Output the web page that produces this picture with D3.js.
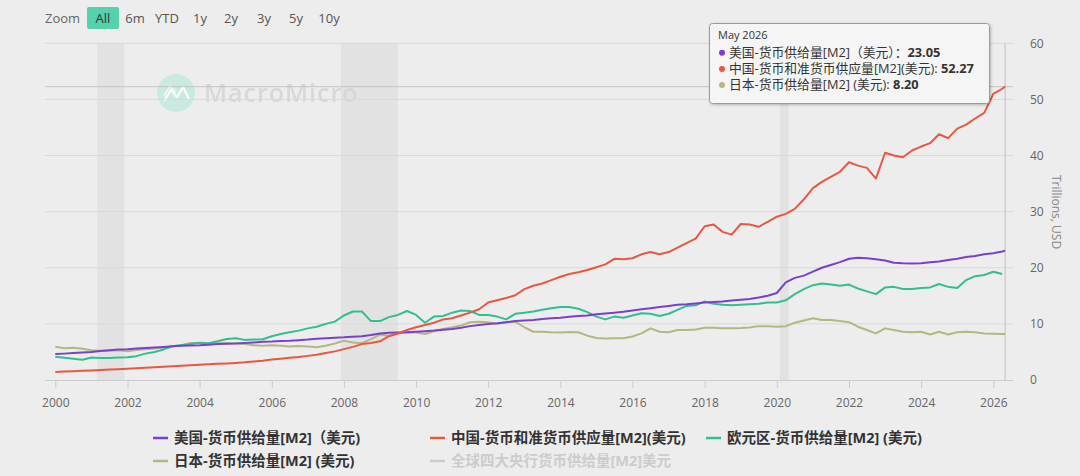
<!DOCTYPE html>
<html><head><meta charset="utf-8">
<script src="https://cdn.jsdelivr.net/npm/d3@7"></script>
<style>
html,body{margin:0;padding:0;background:#ededed;}
svg{display:block;}
text{font-family:"Open Sans","Noto Sans CJK SC","Noto Sans",sans-serif;}
</style></head>
<body>
<svg id="chart" width="1080" height="476"></svg>
<script>
// ---------- DATA ----------
const dates = [
"2000-01","2000-04","2000-07","2000-10",
"2001-01","2001-04","2001-07","2001-10",
"2002-01","2002-04","2002-07","2002-10",
"2003-01","2003-04","2003-07","2003-10",
"2004-01","2004-04","2004-07","2004-10",
"2005-01","2005-04","2005-07","2005-10",
"2006-01","2006-04","2006-07","2006-10",
"2007-01","2007-04","2007-07","2007-10",
"2008-01","2008-04","2008-07","2008-10",
"2009-01","2009-04","2009-07","2009-10",
"2010-01","2010-04","2010-07","2010-10",
"2011-01","2011-04","2011-07","2011-10",
"2012-01","2012-04","2012-07","2012-10",
"2013-01","2013-04","2013-07","2013-10",
"2014-01","2014-04","2014-07","2014-10",
"2015-01","2015-04","2015-07","2015-10",
"2016-01","2016-04","2016-07","2016-10",
"2017-01","2017-04","2017-07","2017-10",
"2018-01","2018-04","2018-07","2018-10",
"2019-01","2019-04","2019-07","2019-10",
"2020-01","2020-04","2020-07","2020-10",
"2021-01","2021-04","2021-07","2021-10",
"2022-01","2022-04","2022-07","2022-10",
"2023-01","2023-04","2023-07","2023-10",
"2024-01","2024-04","2024-07","2024-10",
"2025-01","2025-04","2025-07","2025-10",
"2026-01","2026-04","2026-05"
];
const usM2 = [
4.63,4.7,4.8,4.9, 5.0,5.15,5.3,5.45, 5.5,5.6,5.7,5.8, 5.9,6.0,6.1,6.15,
6.2,6.3,6.4,6.45, 6.5,6.6,6.7,6.8, 6.85,6.95,7.0,7.1, 7.2,7.35,7.45,7.55,
7.6,7.7,7.8,8.0, 8.3,8.4,8.45,8.5, 8.6,8.7,8.8,8.95, 9.1,9.3,9.6,9.8,
10.0,10.1,10.3,10.5, 10.6,10.7,10.85,11.0, 11.1,11.25,11.4,11.5, 11.7,11.85,12.0,12.15,
12.4,12.6,12.8,13.0, 13.2,13.4,13.5,13.65, 13.8,13.9,14.0,14.15, 14.3,14.45,14.7,15.0,
15.5,17.4,18.2,18.6, 19.3,20.0,20.5,21.0, 21.6,21.8,21.7,21.5, 21.3,20.9,20.8,20.75,
20.8,21.0,21.1,21.4, 21.6,21.9,22.1,22.4, 22.6,22.9,23.05
];
const chinaM2 = [
1.43,1.5,1.57,1.63, 1.7,1.77,1.85,1.92, 2.0,2.1,2.2,2.28, 2.35,2.45,2.55,2.62,
2.7,2.8,2.88,2.95, 3.05,3.15,3.3,3.45, 3.65,3.8,3.95,4.1, 4.3,4.5,4.8,5.1,
5.5,5.9,6.4,6.6, 6.9,7.8,8.3,8.9, 9.4,9.8,10.2,10.8, 11.0,11.5,12.0,12.6,
13.8,14.2,14.6,15.1, 16.2,16.8,17.2,17.8, 18.4,18.9,19.2,19.6, 20.1,20.6,21.6,21.5,
21.7,22.4,22.8,22.4, 22.8,23.6,24.4,25.2, 27.4,27.7,26.4,25.9, 27.8,27.7,27.3,28.2,
29.1,29.6,30.5,32.2, 34.2,35.3,36.2,37.1, 38.8,38.2,37.8,35.9, 40.5,40.0,39.7,40.9,
41.6,42.2,43.8,43.1, 44.8,45.5,46.6,47.6, 51.0,51.9,52.27
];
const euroM2 = [
4.16,3.98,3.8,3.6, 4.0,3.9,3.9,4.0, 4.04,4.25,4.7,5.0, 5.45,6.0,6.2,6.4,
6.65,6.55,6.9,7.3, 7.45,7.15,7.2,7.25, 7.8,8.2,8.5,8.8, 9.2,9.5,10.0,10.4,
11.5,12.2,12.2,10.5, 10.5,11.2,11.6,12.3, 11.6,10.2,11.3,11.4, 12.0,12.4,12.3,11.6,
11.6,11.3,10.8,11.8, 12.0,12.2,12.5,12.8, 13.0,13.0,12.7,12.1, 11.3,10.8,11.3,11.1,
11.5,11.9,11.8,11.4, 11.8,12.5,13.2,13.3, 14.0,13.6,13.4,13.3, 13.4,13.5,13.6,13.8,
13.8,14.2,15.3,16.2, 16.9,17.2,17.0,16.8, 17.0,16.3,15.8,15.3, 16.5,16.6,16.2,16.2,
16.4,16.5,17.1,16.6, 16.4,17.8,18.5,18.7, 19.3,18.9,null
];
const japanM2 = [
5.94,5.64,5.76,5.55, 5.3,5.2,5.2,5.3, 5.1,5.35,5.5,5.6, 5.8,6.0,6.2,6.6,
6.6,6.45,6.55,6.6, 6.55,6.4,6.2,6.1, 6.2,6.1,5.95,6.05, 5.95,5.85,6.1,6.5,
7.0,6.7,6.55,7.3, 8.1,7.9,8.3,8.5, 8.45,8.2,8.7,9.1, 9.4,9.7,10.3,10.4,
10.3,10.0,10.3,10.4, 9.4,8.6,8.6,8.5, 8.45,8.55,8.5,7.9, 7.5,7.4,7.45,7.45,
7.75,8.3,9.2,8.6, 8.5,8.9,8.9,9.0, 9.3,9.3,9.2,9.2, 9.25,9.35,9.6,9.6,
9.5,9.6,10.2,10.6, 11.0,10.7,10.7,10.5, 10.3,9.5,8.9,8.3, 9.2,8.9,8.6,8.5,
8.6,8.1,8.6,8.1, 8.5,8.6,8.5,8.3, 8.25,8.2,8.2
];
const recessions = [["2001-03-01","2001-11-30"],["2007-12-01","2009-06-30"],["2020-02-01","2020-04-30"]];
const xTickYears = [2000,2002,2004,2006,2008,2010,2012,2014,2016,2018,2020,2022,2024,2026];
const yTicks = [0,10,20,30,40,50,60];
const zoomButtons = ["6m","YTD","1y","2y","3y","5y","10y"];
const seriesNames = ["美国-货币供给量[M2]（美元)","中国-货币和准货币供应量[M2](美元)","欧元区-货币供给量[M2] (美元)","日本-货币供给量[M2] (美元)","全球四大央行货币供给量[M2]美元"];
const seriesColors = ["#7b3fd0","#e8583f","#31bf91","#b6b780","#cccccc"];
const tooltipTitle = "May 2026";
const tooltipRows = [
  {name:"美国-货币供给量[M2]（美元）：", value:"23.05", color:"#7b3fd0"},
  {name:"中国-货币和准货币供应量[M2](美元):\u00a0", value:"52.27", color:"#e8583f"},
  {name:"日本-货币供给量[M2] (美元):\u00a0", value:"8.20", color:"#b6b780"}
];
const hoverDate = "2026-05";
const hoverValue = 52.27;

// ---------- CHART ----------
const svg = d3.select("#chart");
const parseM = d3.timeParse("%Y-%m");
const parseD = d3.timeParse("%Y-%m-%d");
const plotL = 45, plotR = 1013, plotT = 43.3, plotB = 380;

const x = d3.scaleTime()
  .domain([new Date(2000,0,1), new Date(2026,0,1)])
  .range([55.3, 993.3]);
const y = d3.scaleLinear().domain([0,60]).range([plotB, plotT]);

// background
svg.append("rect").attr("width",1080).attr("height",476).attr("fill","#ededed");

// recession bands
svg.append("g").selectAll("rect").data(recessions).join("rect")
  .attr("x", d => x(parseD(d[0])))
  .attr("width", d => x(parseD(d[1])) - x(parseD(d[0])))
  .attr("y", plotT).attr("height", plotB - plotT)
  .attr("fill", "#e2e2e2");

// watermark
const wm = svg.append("g").attr("opacity",0.9);
wm.append("circle").attr("cx",176).attr("cy",93).attr("r",19).attr("fill","#c6eadf");
wm.append("path").attr("d","M164,101 L171,90 L177,97 L183,87 L189,99")
  .attr("fill","none").attr("stroke","#ffffff").attr("stroke-width",2.2).attr("stroke-linejoin","round");
wm.append("path").attr("d","M164,96 L170,86 L176,92")
  .attr("fill","none").attr("stroke","#ffffff").attr("stroke-width",1.5).attr("opacity",0.8);
wm.append("text").attr("x",204).attr("y",102).attr("font-size",25).attr("font-weight",600)
  .attr("letter-spacing",1).attr("fill","#d6d6d6").attr("font-family","'Open Sans',sans-serif").text("MacroMicro");

// gridlines
svg.append("g").selectAll("line").data(yTicks.filter(v => v > 0)).join("line")
  .attr("x1", plotL).attr("x2", plotR)
  .attr("y1", d => y(d)).attr("y2", d => y(d))
  .attr("stroke", "#d9d9d9").attr("stroke-width", 1);

// x axis
const xAxis = d3.axisBottom(x)
  .tickValues(xTickYears.map(yr => new Date(yr,0,1)))
  .tickFormat(d3.timeFormat("%Y"))
  .tickSize(8).tickPadding(10);
const gx = svg.append("g").attr("transform",`translate(0,${plotB})`).call(xAxis);
gx.select(".domain").remove();
gx.selectAll(".tick line").attr("stroke","#cccccc");
gx.selectAll(".tick text").attr("fill","#666").attr("font-size",12)
  .attr("font-family","'Open Sans',sans-serif");
svg.append("line").attr("x1",plotL).attr("x2",plotR).attr("y1",plotB+0.5).attr("y2",plotB+0.5)
  .attr("stroke","#cccccc").attr("stroke-width",1);

// right y axis
const yAxis = d3.axisRight(y).tickValues(yTicks).tickSize(0).tickPadding(17);
const gy = svg.append("g").attr("transform",`translate(${plotR},0)`).call(yAxis);
gy.select(".domain").remove();
gy.selectAll(".tick text").attr("fill","#666").attr("font-size",12)
  .attr("font-family","'Open Sans',sans-serif");
svg.append("text").attr("transform","translate(1052,212) rotate(90)")
  .attr("text-anchor","middle").attr("font-size",12).attr("fill","#888")
  .attr("font-family","'Open Sans',sans-serif").text("Trillions, USD");

// crosshairs
const hx = x(parseM(hoverDate));
svg.append("line").attr("x1",hx).attr("x2",hx).attr("y1",plotT).attr("y2",plotB)
  .attr("stroke","#cfcfcf").attr("stroke-width",1.5);
svg.append("line").attr("x1",plotL).attr("x2",plotR).attr("y1",y(hoverValue)).attr("y2",y(hoverValue))
  .attr("stroke","#c4c4c4").attr("stroke-width",1);

// lines
const allSeries = [usM2, chinaM2, euroM2, japanM2];
const drawOrder = [3, 2, 0, 1];
const line = d3.line()
  .defined(d => d.v != null)
  .x(d => x(d.t)).y(d => y(d.v));
drawOrder.forEach(i => {
  const pts = dates.map((dt, k) => ({t: parseM(dt), v: allSeries[i][k]}));
  svg.append("path").datum(pts)
    .attr("d", line)
    .attr("fill","none")
    .attr("stroke", seriesColors[i])
    .attr("stroke-width", 2)
    .attr("stroke-linejoin","round");
});

// zoom buttons
svg.append("text").attr("x",45).attr("y",23).attr("font-size",13).attr("fill","#666").text("Zoom");
svg.append("rect").attr("x",87).attr("y",7).attr("width",32).attr("height",22).attr("rx",2)
  .attr("fill","#55d1ad");
svg.append("text").attr("x",103).attr("y",23).attr("text-anchor","middle").attr("font-size",13)
  .attr("fill","#333").text("All");
const btnX = [135,167,200,231,264,296,329];
svg.append("g").selectAll("text").data(zoomButtons).join("text")
  .attr("x",(d,i)=>btnX[i]).attr("y",23).attr("text-anchor","middle")
  .attr("font-size",13).attr("fill","#555").text(d=>d);

// legend
const legendPos = [[153,438],[430,438],[706,438],[153,461],[430,461]];
const lg = svg.append("g");
seriesNames.forEach((nm,i) => {
  const [lx,ly] = legendPos[i];
  lg.append("line").attr("x1",lx).attr("x2",lx+15).attr("y1",ly).attr("y2",ly)
    .attr("stroke",seriesColors[i]).attr("stroke-width",2.5);
  lg.append("text").attr("x",lx+21).attr("y",ly+5).attr("font-size",14.5)
    .attr("font-weight",700).attr("fill", i===4 ? "#cccccc" : "#333")
    .attr("font-family","'Noto Sans CJK SC','Open Sans',sans-serif").text(nm);
});

// tooltip
const defs = svg.append("defs");
const f = defs.append("filter").attr("id","sh").attr("x","-10%").attr("y","-20%").attr("width","130%").attr("height","160%");
f.append("feDropShadow").attr("dx",1).attr("dy",1).attr("stdDeviation",1.5).attr("flood-color","#000").attr("flood-opacity",0.25);
const tt = svg.append("g");
tt.append("rect").attr("x",709.5).attr("y",23.5).attr("width",280).attr("height",80).attr("rx",3)
  .attr("fill","#f7f7f7").attr("fill-opacity",0.96).attr("stroke","#9a9a9a").attr("stroke-width",1)
  .attr("filter","url(#sh)");
const rowY = i => 57 + i*16.2;
tooltipRows.forEach((r,i) => {
  tt.append("circle").attr("cx",722).attr("cy",rowY(i) - 4.3).attr("r",3).attr("fill",r.color);
});
const ttFont = "'Liberation Sans','Noto Sans CJK SC',sans-serif";
tt.append("text").attr("x",718).attr("y",39).attr("font-size",11).attr("fill","#333")
  .attr("font-family",ttFont).text(tooltipTitle);
tooltipRows.forEach((r,i) => {
  const t = tt.append("text").attr("x",729).attr("y",rowY(i)).attr("font-size",12.8).attr("fill","#333")
    .attr("font-family",ttFont);
  t.append("tspan").text(r.name);
  t.append("tspan").attr("font-weight",700).text(r.value);
});
</script>
</body></html>
